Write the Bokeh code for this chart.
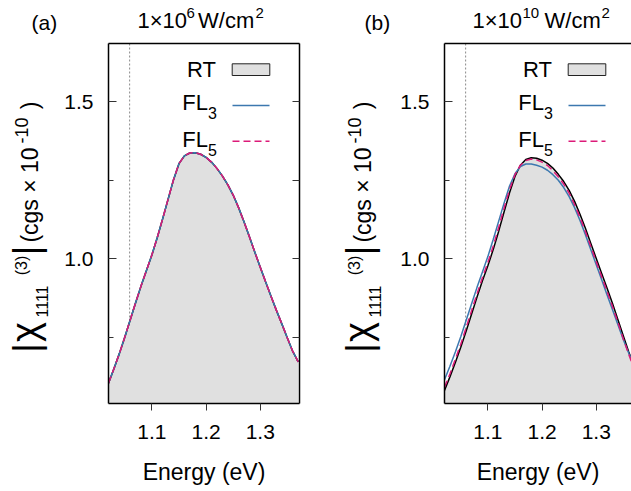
import math
from bokeh.plotting import figure
from bokeh.models import Range1d, FixedTicker, LinearAxis, Label, Span, PrintfTickFormatter
from bokeh.layouts import row, column
from bokeh.embed import file_html
from bokeh.resources import INLINE

# ---------------- data ----------------
ENERGY = [1.02, 1.03, 1.04, 1.05, 1.06, 1.07, 1.08, 1.09, 1.10, 1.11, 1.12, 1.13,
          1.14, 1.15, 1.16, 1.17, 1.18, 1.19, 1.20, 1.21, 1.22, 1.23, 1.24, 1.25,
          1.26, 1.27, 1.28, 1.29, 1.30, 1.31, 1.32, 1.33, 1.34, 1.35, 1.36, 1.37]

# panel (a): 1e6 W/cm^2 -- all three curves coincide
RT_A = [0.604, 0.650, 0.698, 0.750, 0.805, 0.860, 0.913, 0.963, 1.012, 1.068, 1.128, 1.190,
        1.252, 1.303, 1.328, 1.337, 1.338, 1.333, 1.323, 1.308, 1.288, 1.264, 1.236, 1.203,
        1.163, 1.118, 1.070, 1.021, 0.973, 0.926, 0.880, 0.835, 0.792, 0.748, 0.705, 0.672]
FL3_A = [0.604, 0.650, 0.698, 0.750, 0.805, 0.860, 0.913, 0.963, 1.012, 1.068, 1.128, 1.190,
         1.252, 1.303, 1.328, 1.337, 1.338, 1.333, 1.323, 1.308, 1.288, 1.264, 1.236, 1.203,
         1.163, 1.118, 1.070, 1.021, 0.973, 0.926, 0.880, 0.835, 0.792, 0.748, 0.705, 0.672]
FL5_A = [0.604, 0.650, 0.698, 0.750, 0.805, 0.860, 0.913, 0.963, 1.012, 1.068, 1.128, 1.190,
         1.252, 1.303, 1.328, 1.337, 1.338, 1.333, 1.323, 1.308, 1.288, 1.264, 1.236, 1.203,
         1.163, 1.118, 1.070, 1.021, 0.973, 0.926, 0.880, 0.835, 0.792, 0.748, 0.705, 0.672]

# panel (b): 1e10 W/cm^2
RT_B = [0.581, 0.624, 0.670, 0.718, 0.770, 0.824, 0.878, 0.930, 0.978, 1.030, 1.088, 1.150,
        1.210, 1.262, 1.298, 1.316, 1.322, 1.320, 1.314, 1.304, 1.289, 1.269, 1.246, 1.218,
        1.183, 1.142, 1.097, 1.049, 1.001, 0.953, 0.906, 0.858, 0.806, 0.754, 0.703, 0.657]
FL3_B = [0.615, 0.658, 0.703, 0.752, 0.804, 0.857, 0.909, 0.958, 1.007, 1.062, 1.120, 1.178,
         1.232, 1.271, 1.294, 1.302, 1.302, 1.298, 1.292, 1.282, 1.268, 1.250, 1.227, 1.198,
         1.163, 1.122, 1.077, 1.029, 0.981, 0.933, 0.885, 0.838, 0.790, 0.742, 0.699, 0.664]
FL5_B = [0.591, 0.633, 0.680, 0.728, 0.781, 0.835, 0.888, 0.940, 0.988, 1.041, 1.100, 1.162,
         1.220, 1.268, 1.298, 1.313, 1.318, 1.315, 1.308, 1.297, 1.281, 1.261, 1.238, 1.209,
         1.173, 1.132, 1.087, 1.039, 0.991, 0.943, 0.896, 0.848, 0.797, 0.745, 0.695, 0.650]

GAP_E = 1.059                 # dotted vertical marker
X_TICKS = [1.1, 1.2, 1.3]
Y_TICKS = [1.0, 1.5]
Y_MINOR = [0.75, 1.25]
TAGS = ["(a)", "(b)"]
EXPONENTS = ["6", "10"]
LEGEND = ["RT", "FL", "FL"]
SUBS = ["3", "5"]
XLABEL = "Energy (eV)"
YLABEL_PARTS = ["|", "\u03c7", "1111", "(3)", "|", "(cgs \u00d7 10", "-10", ")"]

# ---------------- style / geometry ----------------
FONT = "Liberation Sans"
FILL = "#e0e0e0"
BLUE = "#3c78af"
PINK = "#dc1a78"
TICK_C = "#333333"

PXE = 542.0          # px per eV
PXY = 314.0          # px per unit chi
X0 = 1.02
TITLE_H = 35
FRAME_TOP = 43.0     # page px
FRAME_H = 360
Y1 = 1.0 + (258.3 - FRAME_TOP) / PXY
Y0 = Y1 - FRAME_H / PXY
MAIN_H = 455
MAIN_LEFT = 50
TOP_B = int(FRAME_TOP) - TITLE_H
BOT_B = MAIN_H - TOP_B - FRAME_H
MID = 0.35           # baseline -> middle offset (fraction of font size)

# rotated y-label pieces: centre x, centre y (page px, panel a), font size
YLABEL_POS = [(26.4, 347.5, "36px"), (24.7, 331.5, "38px"), (41.0, 301.0, "16px"),
              (21.0, 265.0, "16px"), (26.4, 250.0, "36px"), (29.4, 194.5, "23px"),
              (20.8, 130.0, "18px"), (29.4, 105.0, "23px")]


def lab(p, s, x, y, size, align="left"):
    """horizontal text; x, y: baseline position in the figure's data units."""
    fs = float(size.replace("px", ""))
    p.add_layout(Label(x=x, y=y - MID * fs, text=s, text_font=FONT, text_font_size=size,
                       text_color="black", text_align=align, text_baseline="middle"))


def rlab(p, s, cx, cy, size):
    """text rotated 90 deg, centred on (cx, cy)."""
    p.add_layout(Label(x=cx, y=cy, text=s, text_font=FONT, text_font_size=size,
                       text_color="black", text_align="center", text_baseline="middle",
                       angle=math.pi / 2))


def aux_fig(x0, y_top, w, h, frame_top, frame_bottom, btop=0, bbot=0):
    """figure whose data units are page pixels (frame spans page y frame_top..frame_bottom)."""
    f = figure(width=w, height=h, x_range=Range1d(x0, x0 + w),
               y_range=Range1d(frame_bottom, frame_top),
               output_backend="svg", toolbar_location=None, title=None,
               min_border_left=0, min_border_right=0,
               min_border_top=btop, min_border_bottom=bbot,
               x_axis_location=None, y_axis_location=None)
    f.outline_line_color = None
    f.xgrid.grid_line_color = None
    f.ygrid.grid_line_color = None
    f.background_fill_color = "white"
    f.border_fill_color = "white"
    return f


def make_panel(rt, fl3, fl5, idx, origin, width, right, tshift, title_pos, has_right):
    left_w = 108 + (0 if idx == 0 else 8) - MAIN_LEFT
    fleft = origin + left_w + MAIN_LEFT
    main_w = width - left_w
    frame_w = main_w - MAIN_LEFT - right
    x1 = X0 + frame_w / PXE

    # ---- title strip
    tf = aux_fig(origin, 0, width, TITLE_H, 0, TITLE_H)
    lab(tf, TAGS[idx], 31 + tshift, 29.0, "21px")
    tx = title_pos
    lab(tf, "1\u00d710", tx[0], 28, "22px")
    lab(tf, EXPONENTS[idx], tx[1], 18, "15px")
    lab(tf, "W/cm", tx[2], 28, "22px")
    lab(tf, "2", tx[3], 17.5, "15px")

    # ---- y-label strip (borders equal to the main plot's, so the frames line up)
    lf = aux_fig(origin, TITLE_H, left_w, MAIN_H, FRAME_TOP, FRAME_TOP + FRAME_H,
                 btop=TOP_B, bbot=BOT_B)
    for s_, (cx, cy, fs) in zip(YLABEL_PARTS, YLABEL_POS):
        rlab(lf, s_, cx + tshift, cy, fs)

    # ---- main plot
    p = figure(width=main_w, height=MAIN_H, x_range=Range1d(X0, x1), y_range=Range1d(Y0, Y1),
               output_backend="svg", toolbar_location=None, title=None,
               min_border_left=MAIN_LEFT, min_border_right=right,
               min_border_top=TOP_B, min_border_bottom=BOT_B)
    p.outline_line_color = None
    p.xgrid.grid_line_color = None
    p.ygrid.grid_line_color = None
    p.background_fill_color = "white"
    p.border_fill_color = "white"

    def X(xp):
        return X0 + (xp - fleft) / PXE

    def Y(yp):
        return Y1 - (yp - FRAME_TOP) / PXY

    xa = p.xaxis[0]
    xa.ticker = FixedTicker(ticks=X_TICKS, minor_ticks=[])
    xa.formatter = PrintfTickFormatter(format="%.1f")
    xa.major_tick_in = 0
    xa.major_tick_out = 7
    xa.minor_tick_in = 0
    xa.minor_tick_out = 0
    xa.major_tick_line_color = TICK_C
    xa.axis_line_color = "black"
    xa.axis_line_width = 1.5
    xa.major_label_text_font = FONT
    xa.major_label_text_font_size = "21px"
    xa.major_label_text_color = "black"
    xa.major_label_standoff = 14
    xa.axis_label = XLABEL
    xa.axis_label_text_font = FONT
    xa.axis_label_text_font_size = "23px"
    xa.axis_label_text_font_style = "normal"
    xa.axis_label_text_color = "black"
    xa.axis_label_standoff = 17

    ya = p.yaxis[0]
    ya.ticker = FixedTicker(ticks=Y_TICKS, minor_ticks=Y_MINOR)
    ya.formatter = PrintfTickFormatter(format="%.1f")
    ya.major_tick_in = 8
    ya.major_tick_out = 0
    ya.minor_tick_in = 5
    ya.minor_tick_out = 0
    ya.major_tick_line_color = TICK_C
    ya.minor_tick_line_color = TICK_C
    ya.axis_line_color = "black"
    ya.axis_line_width = 1.5
    ya.major_label_text_font = FONT
    ya.major_label_text_font_size = "21px"
    ya.major_label_text_color = "black"
    ya.major_label_standoff = 15

    top = LinearAxis(ticker=FixedTicker(ticks=[], minor_ticks=[]),
                     major_tick_in=0, major_tick_out=0, minor_tick_in=0, minor_tick_out=0,
                     axis_line_color="black", axis_line_width=1.5, major_label_standoff=0)
    p.add_layout(top, "above")
    if has_right:
        ra = LinearAxis(ticker=FixedTicker(ticks=[], minor_ticks=Y_MINOR + Y_TICKS),
                        major_tick_in=0, major_tick_out=0, minor_tick_in=7, minor_tick_out=0,
                        minor_tick_line_color=TICK_C,
                        axis_line_color="black", axis_line_width=1.5, major_label_standoff=0)
        p.add_layout(ra, "right")

    p.add_layout(Span(location=GAP_E, dimension="height", line_color="#8a8a8a",
                      line_dash="2 2", line_width=1, level="underlay"))

    p.varea(x=ENERGY, y1=0, y2=rt, fill_color=FILL)
    p.line(ENERGY, rt, line_color="black", line_width=1.5)
    p.line(ENERGY, fl3, line_color=BLUE, line_width=1.5)
    p.line(ENERGY, fl5, line_color=PINK, line_width=1.5, line_dash="7 4")

    # legend
    ls = fleft - 108.0
    p.quad(left=X(231.7 + ls), right=X(269.3 + ls), top=Y(63.3), bottom=Y(75.0),
           fill_color=FILL, line_color="#222222", line_width=1)
    p.line([X(232 + ls), X(269 + ls)], [Y(105.0), Y(105.0)], line_color=BLUE, line_width=1.5)
    p.line([X(232 + ls), X(269 + ls)], [Y(140.7), Y(140.7)], line_color=PINK,
           line_width=1.5, line_dash="7 4")

    def ptxt(s_, xp, yp, size, align="left"):
        fs = float(size.replace("px", ""))
        p.add_layout(Label(x=X(xp), y=Y(yp - MID * fs), text=s_, text_font=FONT,
                           text_font_size=size, text_color="black", text_align=align,
                           text_baseline="middle"))

    ptxt(LEGEND[0], 215.5 + ls, 76.5, "22px", align="right")
    ptxt(LEGEND[1], 207.5 + ls, 110.0, "22px", align="right")
    ptxt(SUBS[0], 207.5 + ls, 118.0, "16px")
    ptxt(LEGEND[2], 207.5 + ls, 146.7, "22px", align="right")
    ptxt(SUBS[1], 207.5 + ls, 155.0, "16px")

    return column(tf, row(lf, p))


pa = make_panel(RT_A, FL3_A, FL5_A, 0, origin=0, width=328, right=29,
                tshift=0.0, title_pos=[137, 186, 197.5, 255], has_right=True)
pb = make_panel(RT_B, FL3_B, FL5_B, 1, origin=328, width=303, right=0,
                tshift=333.0, title_pos=[472, 522, 544, 601], has_right=False)

layout = row(pa, pb)
open("out.html", "w").write(file_html(layout, INLINE))
